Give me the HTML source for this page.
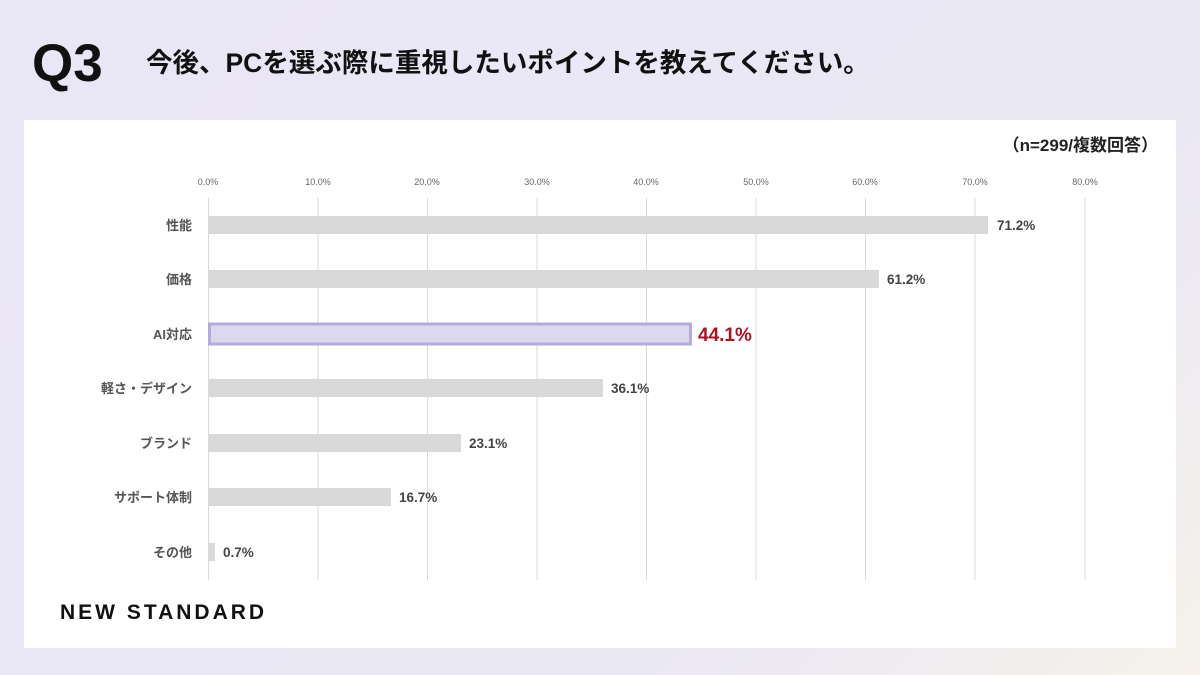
<!DOCTYPE html>
<html><head><meta charset="utf-8"><style>
html,body{margin:0;padding:0}
body{width:1200px;height:675px;overflow:hidden;background:linear-gradient(135deg,#e9e6f6 0%,#ebe8f5 70%,#f5f1ea 100%);font-family:"Liberation Sans","Noto Sans CJK JP",sans-serif}
</style></head><body>
<svg width="1200" height="675" viewBox="0 0 1200 675" xmlns="http://www.w3.org/2000/svg" style="position:absolute;left:0;top:0;font-family:'Liberation Sans','Noto Sans CJK JP',sans-serif">
<text x="32" y="81" font-size="53" font-weight="bold" fill="#111">Q3</text>
<text x="146" y="72" font-size="26.5" font-weight="bold" fill="#111">今後、PCを選ぶ際に重視したいポイントを教えてください。</text>
<rect x="24" y="120" width="1152" height="528" fill="#fff"/>
<text x="1158" y="151" font-size="17" font-weight="bold" fill="#222" text-anchor="end">（n=299/複数回答）</text>
<g stroke="#d9d9d9" stroke-width="1">
<line x1="208.5" y1="198" x2="208.5" y2="580"/><line x1="318" y1="198" x2="318" y2="580"/><line x1="427.5" y1="198" x2="427.5" y2="580"/><line x1="537" y1="198" x2="537" y2="580"/><line x1="646.5" y1="198" x2="646.5" y2="580"/><line x1="756" y1="198" x2="756" y2="580"/><line x1="865.5" y1="198" x2="865.5" y2="580"/><line x1="975" y1="198" x2="975" y2="580"/><line x1="1085" y1="198" x2="1085" y2="580"/>
</g>
<g font-size="9" fill="#666" text-anchor="middle">
<text x="208" y="185">0.0%</text><text x="318" y="185">10.0%</text><text x="427" y="185">20.0%</text><text x="537" y="185">30.0%</text><text x="646" y="185">40.0%</text><text x="756" y="185">50.0%</text><text x="865" y="185">60.0%</text><text x="975" y="185">70.0%</text><text x="1085" y="185">80.0%</text>
</g>
<g fill="#d9d9d9">
<rect x="208" y="216" width="780" height="18"/>
<rect x="208" y="270" width="671" height="18"/>
<rect x="208" y="379" width="395" height="18"/>
<rect x="208" y="434" width="253" height="18"/>
<rect x="208" y="488" width="183" height="18"/>
<rect x="208" y="543" width="7" height="18"/>
</g>
<rect x="209.5" y="324" width="481" height="20" fill="#dcd9ef" stroke="#b1acd9" stroke-width="3"/>
<g font-size="13" font-weight="bold" fill="#555" text-anchor="end">
<text x="192" y="230">性能</text><text x="192" y="284">価格</text><text x="192" y="339">AI対応</text><text x="192" y="393">軽さ・デザイン</text><text x="192" y="448">ブランド</text><text x="192" y="502">サポート体制</text><text x="192" y="557">その他</text>
</g>
<g font-size="13.5" font-weight="bold" fill="#444">
<text x="997" y="230">71.2%</text><text x="887" y="284">61.2%</text><text x="611" y="393">36.1%</text><text x="469" y="448">23.1%</text><text x="399" y="502">16.7%</text><text x="223" y="557">0.7%</text>
</g>
<text x="698" y="341" font-size="19" font-weight="bold" fill="#b01020">44.1%</text>
<text x="60" y="619" font-size="21" font-weight="bold" fill="#111" letter-spacing="3">NEW STANDARD</text>
</svg>
</body></html>
